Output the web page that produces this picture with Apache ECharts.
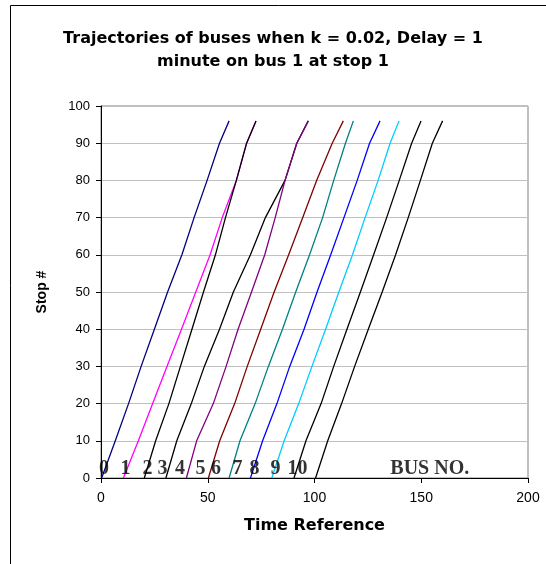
<!DOCTYPE html>
<html>
<head>
<meta charset="utf-8">
<script src="https://cdn.jsdelivr.net/npm/echarts@6/dist/echarts.min.js"></script>
<style>
html,body{margin:0;padding:0;background:#fff;}
#c{width:546px;height:564px;}
</style>
</head>
<body>
<div id="c"></div>
<script>
// Stop numbers at which times were read
var stops = [0, 10, 20, 30, 40, 50, 60, 70, 80, 90, 96];
// Time reference (minutes) at each stop, per bus
var bus0  = [0.3, 6.7, 12.9, 18.8, 25.0, 31.2, 37.9, 43.6, 49.7, 55.5, 60.0];
var bus1  = [10.5, 17.5, 24.2, 30.9, 37.7, 44.4, 51.1, 56.8, 63.4, 68.2, 72.6];
var bus2  = [20.3, 25.6, 31.8, 37.2, 42.6, 48.0, 53.6, 58.3, 63.4, 68.2, 72.6];
var bus3  = [30.4, 35.5, 42.3, 48.4, 55.5, 62.0, 70.0, 77.0, 86.2, 91.7, 97.1];
var bus4  = [40.0, 44.8, 52.6, 58.6, 64.2, 70.5, 76.7, 81.6, 86.2, 91.7, 97.1];
var bus5  = [50.3, 55.6, 62.6, 68.5, 74.8, 81.1, 87.9, 94.5, 101.0, 108.3, 113.5];
var bus6  = [60.0, 65.1, 72.2, 78.4, 85.0, 91.2, 97.7, 103.8, 109.0, 114.5, 118.2];
var bus7  = [70.0, 75.7, 82.4, 88.4, 95.1, 101.2, 107.6, 113.8, 120.0, 125.8, 130.7];
var bus8  = [80.0, 85.8, 92.6, 98.8, 105.2, 111.4, 117.8, 123.7, 129.8, 135.4, 139.6];
var bus9  = [90.4, 96.0, 103.1, 109.0, 115.2, 121.5, 127.7, 133.8, 139.7, 145.5, 149.9];
var bus10 = [100.5, 106.2, 112.7, 118.8, 125.2, 131.7, 138.0, 143.9, 149.6, 155.2, 160.0];
var buses = [bus0, bus1, bus2, bus3, bus4, bus5, bus6, bus7, bus8, bus9, bus10];
var busColors = ['#000080', '#FF00FF', '#000000', '#000000', '#800080', '#800000',
                 '#008080', '#0000FF', '#00CCFF', '#000000', '#000000'];
// Bus number annotations (text, time position, stop position)
var busLabels = ['0', '1', '2', '3', '4', '5', '6', '7', '8', '9', '10', 'BUS NO.'];
var busLabelX = [1.4, 11.5, 21.8, 28.8, 37.0, 46.6, 53.9, 63.9, 71.9, 81.7, 92.0, 154.0];
var busLabelY = [2.4, 2.4, 2.4, 2.4, 2.4, 2.4, 2.4, 2.4, 2.4, 2.4, 2.4, 2.4];
var xTicks = [0, 50, 100, 150, 200];
var yTicks = [0, 10, 20, 30, 40, 50, 60, 70, 80, 90, 100];

var series = buses.map(function (b, i) {
  return {
    type: 'line',
    name: 'Bus ' + i,
    data: b.map(function (t, j) { return [t, stops[j]]; }),
    showSymbol: false,
    symbol: 'none',
    lineStyle: { color: busColors[i], width: 1.3 },
    itemStyle: { color: busColors[i] },
    z: 2 + i * 0.01
  };
});
series.push({
  type: 'scatter',
  name: 'labels',
  symbolSize: 0,
  silent: true,
  z: 5,
  data: busLabels.map(function (s, i) { return { value: [busLabelX[i], busLabelY[i]], name: s }; }),
  label: {
    show: true,
    position: 'inside',
    formatter: function (p) { return p.name; },
    fontFamily: '"Liberation Serif", "Times New Roman", serif',
    fontWeight: 'bold',
    fontSize: 20,
    color: '#000'
  }
});

var chart = echarts.init(document.getElementById('c'), null, { renderer: 'canvas' });
chart.setOption({
  animation: false,
  backgroundColor: '#fff',
  title: {
    text: 'Trajectories of buses when k = 0.02, Delay = 1\nminute on bus 1 at stop 1',
    left: 'center',
    top: 22,
    textStyle: {
      fontFamily: '"DejaVu Sans", sans-serif',
      fontWeight: 'bold',
      fontSize: 16,
      lineHeight: 23,
      color: '#000'
    }
  },
  graphic: [{
    type: 'rect',
    shape: { x: 10.5, y: 5.5, width: 700, height: 700 },
    style: { fill: null, stroke: '#000', lineWidth: 1 },
    silent: true,
    z: 100
  }],
  grid: {
    left: 101, top: 106, right: 18, bottom: 86,
    show: true, borderColor: '#808080', borderWidth: 1, backgroundColor: '#fff'
  },
  xAxis: {
    type: 'value',
    min: xTicks[0], max: xTicks[xTicks.length - 1], interval: 50,
    name: 'Time Reference',
    nameLocation: 'middle',
    nameGap: 40,
    nameTextStyle: { fontFamily: '"DejaVu Sans", sans-serif', fontWeight: 'bold', fontSize: 16, color: '#000' },
    axisLine: { show: true, lineStyle: { color: '#000', width: 1 } },
    axisTick: { show: true, inside: false, length: 5, lineStyle: { color: '#000' } },
    axisLabel: { margin: 13, fontFamily: '"Liberation Sans", Arial, sans-serif', fontSize: 14, color: '#000' },
    splitLine: { show: false }
  },
  yAxis: {
    type: 'value',
    min: yTicks[0], max: yTicks[yTicks.length - 1], interval: 10,
    name: 'Stop #',
    nameLocation: 'middle',
    nameGap: 52,
    nameRotate: 90,
    nameTextStyle: { fontFamily: '"Liberation Sans", Arial, sans-serif', fontWeight: 'bold', fontSize: 14, color: '#000' },
    axisLine: { show: true, lineStyle: { color: '#000', width: 1 } },
    axisTick: { show: true, inside: false, length: 5, lineStyle: { color: '#000' } },
    axisLabel: { margin: 11, fontFamily: '"Liberation Sans", Arial, sans-serif', fontSize: 13, color: '#000' },
    splitLine: { show: true, lineStyle: { color: '#c0c0c0', width: 1 } }
  },
  series: series
});
</script>
</body>
</html>
